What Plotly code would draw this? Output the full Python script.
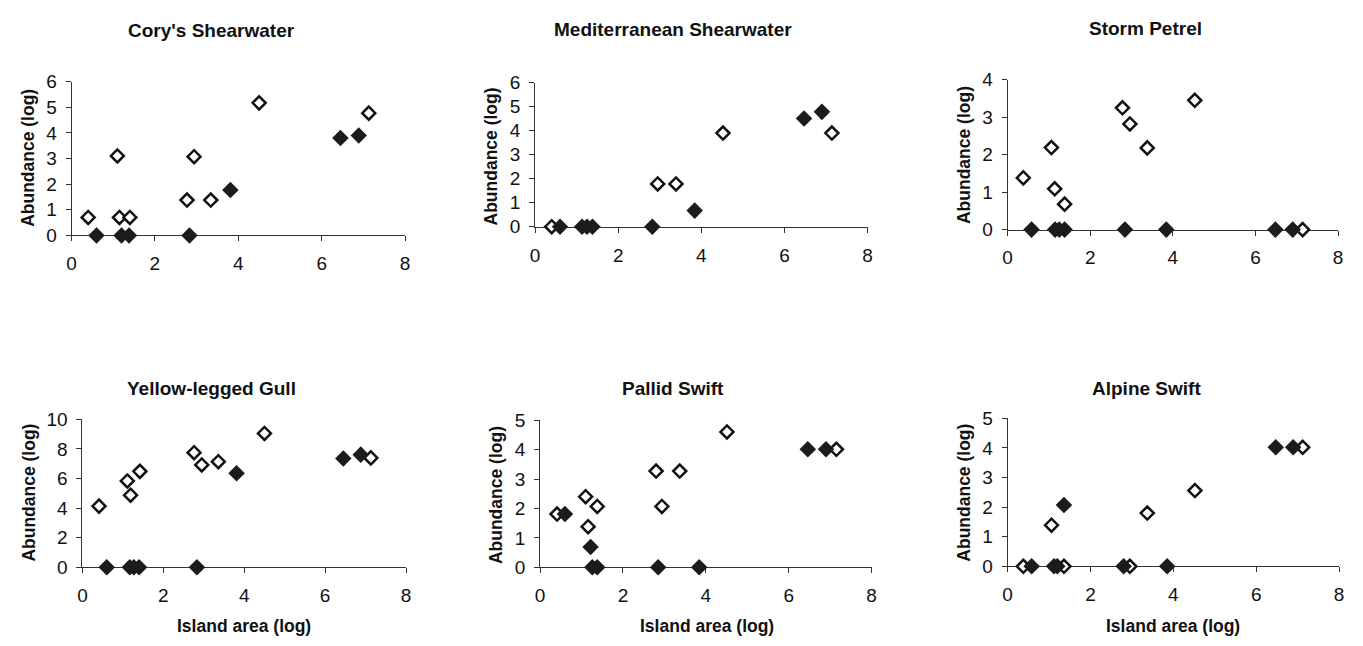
import plotly.graph_objects as go

W, H = 1363, 646

# ---------------- data ----------------
titles = ["Cory's Shearwater", "Mediterranean Shearwater", "Storm Petrel",
          "Yellow-legged Gull", "Pallid Swift", "Alpine Swift"]
y_max = [6, 6, 4, 10, 5, 5]
y_dtick = [1, 1, 1, 2, 1, 1]
x_ticks = [0, 2, 4, 6, 8]

cory_open_x = [0.4, 1.1, 1.15, 1.4, 2.77, 2.94, 3.34, 4.5, 7.13]
cory_open_y = [0.7, 3.1, 0.7, 0.7, 1.38, 3.07, 1.38, 5.17, 4.77]
cory_fill_x = [0.6, 1.2, 1.38, 2.83, 3.81, 6.45, 6.89]
cory_fill_y = [0, 0, 0, 0, 1.77, 3.8, 3.9]

med_open_x = [0.4, 2.95, 3.39, 4.52, 7.14]
med_open_y = [0, 1.78, 1.78, 3.9, 3.9]
med_fill_x = [0.6, 1.13, 1.25, 1.38, 2.82, 3.84, 6.47, 6.9]
med_fill_y = [0, 0, 0, 0, 0, 0.67, 4.5, 4.78]

storm_open_x = [0.38, 1.06, 1.14, 1.38, 2.78, 2.96, 3.38, 4.53, 7.14]
storm_open_y = [1.38, 2.19, 1.09, 0.68, 3.25, 2.82, 2.18, 3.45, 0]
storm_fill_x = [0.58, 1.15, 1.25, 1.38, 2.84, 3.84, 6.48, 6.9]
storm_fill_y = [0, 0, 0, 0, 0, 0, 0, 0]

gull_open_x = [0.41, 1.11, 1.19, 1.42, 2.76, 2.95, 3.36, 4.5, 7.13]
gull_open_y = [4.13, 5.83, 4.87, 6.48, 7.74, 6.91, 7.13, 9.04, 7.39]
gull_fill_x = [0.6, 1.17, 1.27, 1.4, 2.83, 3.81, 6.45, 6.88]
gull_fill_y = [0, 0, 0, 0, 0, 6.35, 7.35, 7.61]

pallid_open_x = [0.41, 1.1, 1.16, 1.38, 2.8, 2.94, 3.37, 4.51, 7.15]
pallid_open_y = [1.81, 2.4, 1.38, 2.07, 3.27, 2.07, 3.27, 4.6, 4.01]
pallid_fill_x = [0.6, 1.22, 1.26, 1.38, 2.85, 3.84, 6.46, 6.9]
pallid_fill_y = [1.81, 0.69, 0, 0, 0, 0, 4.01, 4.01]

alpine_open_x = [0.38, 1.06, 1.36, 2.95, 3.37, 4.52, 7.12]
alpine_open_y = [0, 1.39, 0, 0, 1.8, 2.56, 4.02]
alpine_fill_x = [0.58, 1.12, 1.2, 1.36, 2.8, 3.85, 6.47, 6.89]
alpine_fill_y = [0, 0, 0, 2.07, 0, 0, 4.02, 4.02]

open_x = [cory_open_x, med_open_x, storm_open_x, gull_open_x, pallid_open_x, alpine_open_x]
open_y = [cory_open_y, med_open_y, storm_open_y, gull_open_y, pallid_open_y, alpine_open_y]
fill_x = [cory_fill_x, med_fill_x, storm_fill_x, gull_fill_x, pallid_fill_x, alpine_fill_x]
fill_y = [cory_fill_y, med_fill_y, storm_fill_y, gull_fill_y, pallid_fill_y, alpine_fill_y]

# ---------------- layout geometry (pixels) ----------------
# plot area: left, right, top, bottom
areas = [(67, 403, 74, 233), (534, 869, 75, 224), (1010, 1343, 72, 227),
         (78, 404, 423, 576), (539, 873, 424, 576), (1010, 1344, 422, 575)]
title_pos = [(208, 21), (673, 20), (1149, 19), (208, 391), (673, 391), (1150, 391)]
ytitle_pos = [(23, 153), (490, 151), (966, 150), (24, 499), (494, 501), (966, 499)]
xtitle_pos = [None, None, None, (241, 637), (707, 637), (1177, 637)]

FONT = "Liberation Sans, Arial, sans-serif"
INK = "#111111"
AX = "#333333"
TICK_SIZE = 19
TITLE_SIZE = 19
AXTITLE_SIZE = 17.5

fig = go.Figure()
annotations = []
layout = dict(width=W, height=H, autosize=False,
              margin=dict(l=0, r=0, t=0, b=0, pad=0),
              paper_bgcolor="white", plot_bgcolor="white",
              showlegend=False, font=dict(family=FONT, color=INK))

for i in range(6):
    n = "" if i == 0 else str(i + 1)
    l, r, t, b = areas[i]
    xa = dict(domain=[l / W, r / W], range=[0, 8], tickvals=x_ticks,
              showgrid=False, zeroline=False, showline=True, linecolor=AX,
              linewidth=1, ticks="outside", ticklen=5, tickcolor=AX,
              tickfont=dict(size=TICK_SIZE, family=FONT, color=INK),
              ticklabelstandoff=6, layer="below traces",
              anchor="y" + n, fixedrange=True)
    ya = dict(domain=[1 - b / H, 1 - t / H], range=[0, y_max[i]],
              dtick=y_dtick[i], tick0=0,
              showgrid=False, zeroline=False, showline=True, linecolor=AX,
              linewidth=1, ticks="outside", ticklen=5, tickcolor=AX,
              tickfont=dict(size=TICK_SIZE, family=FONT, color=INK),
              ticklabelstandoff=5, layer="below traces",
              anchor="x" + n, fixedrange=True)
    layout["xaxis" + n] = xa
    layout["yaxis" + n] = ya

    fig.add_trace(go.Scatter(x=open_x[i], y=open_y[i], mode="markers",
                             xaxis="x" + n, yaxis="y" + n, cliponaxis=False,
                             marker=dict(symbol="diamond", size=10, color="white",
                                         line=dict(color=INK, width=2.5))))
    fig.add_trace(go.Scatter(x=fill_x[i], y=fill_y[i], mode="markers",
                             xaxis="x" + n, yaxis="y" + n, cliponaxis=False,
                             marker=dict(symbol="diamond", size=10, color="#1c1c1c",
                                         line=dict(color="#1c1c1c", width=2.5))))

    tx, ty = title_pos[i]
    annotations.append(dict(text="<b>" + titles[i] + "</b>", xref="paper", yref="paper",
                            x=tx / W, y=1 - ty / H, xanchor="center", yanchor="middle",
                            showarrow=False, font=dict(size=TITLE_SIZE, family=FONT, color=INK)))
    yx, yy = ytitle_pos[i]
    annotations.append(dict(text="<b>Abundance (log)</b>", xref="paper", yref="paper",
                            x=yx / W, y=1 - yy / H, xanchor="center", yanchor="middle",
                            textangle=-90, showarrow=False,
                            font=dict(size=AXTITLE_SIZE, family=FONT, color=INK)))
    if xtitle_pos[i] is not None:
        xx, xy = xtitle_pos[i]
        annotations.append(dict(text="<b>Island area (log)</b>", xref="paper", yref="paper",
                                x=xx / W, y=1 - xy / H, xanchor="center", yanchor="middle",
                                showarrow=False, font=dict(size=AXTITLE_SIZE, family=FONT, color=INK)))

layout["annotations"] = annotations
fig.update_layout(**layout)
fig.write_html("out.html")
